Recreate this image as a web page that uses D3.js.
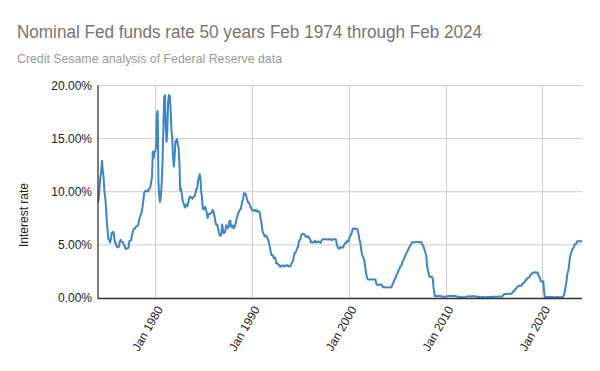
<!DOCTYPE html>
<html><head><meta charset="utf-8">
<script src="https://cdn.jsdelivr.net/npm/d3@7"></script>
<style>body{margin:0;background:#fff}svg{display:block}</style>
</head><body><svg id="c" width="600" height="371"></svg>
<script>
const startYear = 1974, startMonth = 1; // Feb 1974 (0-based month index)
const rate1974 = [8.97,9.35,10.51,11.31,11.93,12.92,12.01,11.34,10.06,9.45,8.53];
const rate1975 = [7.13,6.24,5.54,5.49,5.22,5.55,6.10,6.14,6.24,5.82,5.22,5.20];
const rate1976 = [4.87,4.77,4.84,4.82,5.29,5.48,5.31,5.29,5.25,5.02,4.95,4.65];
const rate1977 = [4.61,4.68,4.69,4.73,5.35,5.39,5.42,5.90,6.14,6.47,6.51,6.56];
const rate1978 = [6.70,6.78,6.79,6.89,7.36,7.60,7.81,8.04,8.45,8.96,9.76,10.03];
const rate1979 = [10.07,10.06,10.09,10.01,10.24,10.29,10.47,10.94,11.43,13.77,13.18,13.78];
const rate1980 = [13.82,14.13,17.19,17.61,10.98,9.47,9.03,9.61,10.87,12.81,15.85,18.90];
const rate1981 = [19.08,15.93,14.70,15.72,18.52,19.10,19.04,17.82,15.87,15.08,13.31,12.37];
const rate1982 = [13.22,14.78,14.68,14.94,14.45,14.15,12.59,10.12,10.31,9.71,9.20,8.95];
const rate1983 = [8.68,8.51,8.77,8.80,8.63,8.98,9.37,9.56,9.45,9.48,9.34,9.47];
const rate1984 = [9.56,9.59,9.91,10.29,10.32,11.06,11.23,11.64,11.30,9.99,9.43,8.38];
const rate1985 = [8.35,8.50,8.58,8.27,7.97,7.53,7.88,7.90,7.92,7.99,8.05,8.27];
const rate1986 = [8.14,7.86,7.48,6.99,6.85,6.92,6.56,6.17,5.89,5.85,6.04,6.91];
const rate1987 = [6.43,6.10,6.13,6.37,6.85,6.73,6.58,6.73,7.22,7.29,6.69,6.77];
const rate1988 = [6.83,6.58,6.58,6.87,7.09,7.51,7.75,8.01,8.19,8.30,8.35,8.76];
const rate1989 = [9.12,9.36,9.85,9.84,9.81,9.53,9.24,8.99,9.02,8.84,8.55,8.45];
const rate1990 = [8.23,8.24,8.28,8.26,8.18,8.29,8.15,8.13,8.20,8.11,7.81,7.31];
const rate1991 = [6.91,6.25,6.12,5.91,5.78,5.90,5.82,5.66,5.45,5.21,4.81,4.43];
const rate1992 = [4.03,4.06,3.98,3.73,3.82,3.76,3.25,3.30,3.22,3.10,3.09,2.92];
const rate1993 = [3.02,3.03,3.07,2.96,3.00,3.04,3.06,3.03,3.09,2.99,3.02,2.96];
const rate1994 = [3.05,3.25,3.34,3.56,4.01,4.25,4.26,4.47,4.73,4.76,5.29,5.45];
const rate1995 = [5.53,5.92,5.98,6.05,6.01,6.00,5.85,5.74,5.80,5.76,5.80,5.60];
const rate1996 = [5.56,5.22,5.31,5.22,5.24,5.27,5.40,5.22,5.30,5.24,5.31,5.29];
const rate1997 = [5.25,5.19,5.39,5.51,5.50,5.56,5.52,5.54,5.54,5.50,5.52,5.50];
const rate1998 = [5.56,5.51,5.49,5.45,5.49,5.56,5.54,5.55,5.51,5.07,4.83,4.68];
const rate1999 = [4.63,4.76,4.81,4.74,4.74,4.76,4.99,5.07,5.22,5.20,5.42,5.30];
const rate2000 = [5.45,5.73,5.85,6.02,6.27,6.53,6.54,6.50,6.52,6.51,6.51,6.40];
const rate2001 = [5.98,5.49,5.31,4.80,4.21,3.97,3.77,3.65,3.07,2.49,2.09,1.82];
const rate2002 = [1.73,1.74,1.73,1.75,1.75,1.75,1.73,1.74,1.75,1.75,1.34,1.24];
const rate2003 = [1.24,1.26,1.25,1.26,1.26,1.22,1.01,1.03,1.01,1.01,1.00,0.98];
const rate2004 = [1.00,1.01,1.00,1.00,1.00,1.03,1.26,1.43,1.61,1.76,1.93,2.16];
const rate2005 = [2.28,2.50,2.63,2.79,3.00,3.04,3.26,3.50,3.62,3.78,4.00,4.16];
const rate2006 = [4.29,4.49,4.59,4.79,4.94,4.99,5.24,5.25,5.25,5.25,5.25,5.24];
const rate2007 = [5.25,5.26,5.26,5.25,5.25,5.25,5.26,5.02,4.94,4.76,4.49,4.24];
const rate2008 = [3.94,2.98,2.61,2.28,1.98,2.00,2.01,2.00,1.81,0.97,0.39,0.16];
const rate2009 = [0.15,0.22,0.18,0.15,0.18,0.21,0.16,0.16,0.15,0.12,0.12,0.12];
const rate2010 = [0.11,0.13,0.16,0.20,0.20,0.18,0.18,0.19,0.19,0.19,0.19,0.18];
const rate2011 = [0.17,0.16,0.14,0.10,0.09,0.09,0.07,0.10,0.08,0.07,0.08,0.07];
const rate2012 = [0.08,0.10,0.13,0.14,0.16,0.16,0.16,0.13,0.14,0.16,0.16,0.16];
const rate2013 = [0.14,0.15,0.14,0.15,0.11,0.09,0.09,0.08,0.08,0.09,0.08,0.09];
const rate2014 = [0.07,0.07,0.08,0.09,0.09,0.10,0.09,0.09,0.09,0.09,0.09,0.12];
const rate2015 = [0.11,0.11,0.11,0.12,0.12,0.13,0.13,0.14,0.14,0.12,0.12,0.24];
const rate2016 = [0.34,0.38,0.36,0.37,0.37,0.38,0.39,0.40,0.40,0.40,0.41,0.54];
const rate2017 = [0.65,0.66,0.79,0.90,0.91,1.04,1.15,1.16,1.15,1.15,1.16,1.30];
const rate2018 = [1.41,1.42,1.51,1.69,1.70,1.82,1.91,1.91,1.95,2.19,2.20,2.27];
const rate2019 = [2.40,2.40,2.41,2.42,2.39,2.38,2.40,2.13,2.04,1.83,1.55,1.55];
const rate2020 = [1.55,1.58,0.65,0.05,0.05,0.08,0.09,0.10,0.09,0.09,0.09,0.09];
const rate2021 = [0.09,0.08,0.07,0.07,0.06,0.08,0.10,0.09,0.08,0.08,0.08,0.08];
const rate2022 = [0.08,0.08,0.20,0.33,0.77,1.21,1.68,2.33,2.56,3.08,3.78,4.10];
const rate2023 = [4.33,4.57,4.65,4.83,5.06,5.08,5.12,5.33,5.33,5.33,5.33,5.33];
const rate2024 = [5.33,5.33];

const yTicks = [0, 5, 10, 15, 20];
const xTickYears = [1980, 1990, 2000, 2010, 2020];
const title = "Nominal Fed funds rate 50 years Feb 1974 through Feb 2024";
const subtitle = "Credit Sesame analysis of Federal Reserve data";
const yTitle = "Interest rate";

const rates = [].concat(rate1974,rate1975,rate1976,rate1977,rate1978,rate1979,rate1980,rate1981,rate1982,rate1983,rate1984,rate1985,rate1986,rate1987,rate1988,rate1989,rate1990,rate1991,rate1992,rate1993,rate1994,rate1995,rate1996,rate1997,rate1998,rate1999,rate2000,rate2001,rate2002,rate2003,rate2004,rate2005,rate2006,rate2007,rate2008,rate2009,rate2010,rate2011,rate2012,rate2013,rate2014,rate2015,rate2016,rate2017,rate2018,rate2019,rate2020,rate2021,rate2022,rate2023,rate2024);
const data = rates.map((v,i) => ({date: new Date(startYear, startMonth + i, 1), v}));

const svg = d3.select("#c");
const font = "'Liberation Sans', Arial, sans-serif";
const m = {l: 98, r: 582, t: 85.5, b: 298};

const x = d3.scaleTime().domain([data[0].date, data[data.length-1].date]).range([m.l, m.r]);
const y = d3.scaleLinear().domain([0, 20]).range([m.b, m.t]);

svg.append("text").attr("x", 17).attr("y", 37.5).attr("font-family", font).attr("font-size", 18)
  .attr("fill", "#757575").attr("textLength", 465).attr("lengthAdjust", "spacingAndGlyphs").text(title);
svg.append("text").attr("x", 17).attr("y", 63).attr("font-family", font).attr("font-size", 12.7)
  .attr("fill", "#999").attr("textLength", 265).attr("lengthAdjust", "spacingAndGlyphs").text(subtitle);

// grid
const xTickDates = xTickYears.map(yr => new Date(yr, 0, 1));
svg.append("g").selectAll("line").data(yTicks.filter(d => d > 0)).join("line")
  .attr("x1", m.l).attr("x2", m.r).attr("y1", d => y(d)).attr("y2", d => y(d))
  .attr("stroke", "#ccc").attr("stroke-width", 1);
svg.append("g").selectAll("line").data(xTickDates).join("line")
  .attr("x1", d => Math.round(x(d)) + 0.5).attr("x2", d => Math.round(x(d)) + 0.5).attr("y1", m.t).attr("y2", m.b)
  .attr("stroke", "#ccc").attr("stroke-width", 1);

// y labels
const yAxis = d3.axisLeft(y).tickValues(yTicks).tickSize(0).tickPadding(6).tickFormat(d => d3.format(".2f")(d) + "%");
const gy = svg.append("g").attr("transform", `translate(${m.l},0)`).call(yAxis);
gy.select(".domain").remove();
gy.selectAll("text").attr("font-family", font).attr("font-size", 12).attr("fill", "#222");

// x labels
const xAxis = d3.axisBottom(x).tickValues(xTickDates).tickSize(0).tickFormat(d3.timeFormat("Jan %Y"));
const gx = svg.append("g").attr("transform", `translate(0,${m.b})`).call(xAxis);
gx.select(".domain").remove();
gx.selectAll("text").attr("font-family", font).attr("font-size", 12).attr("fill", "#222")
  .attr("text-anchor", "end").attr("dy", "0.35em").attr("y", 0)
  .attr("transform", "translate(4,9) rotate(-60)");

// line
const line = d3.line().x(d => x(d.date)).y(d => y(d.v));
svg.append("path").datum(data).attr("d", line).attr("fill", "none")
  .attr("stroke", "#3d85c6").attr("stroke-width", 2).attr("stroke-linejoin", "round");

// axes lines
svg.append("line").attr("x1", m.l).attr("x2", m.l).attr("y1", m.t).attr("y2", m.b + 0.5).attr("stroke", "#333").attr("stroke-width", 1.3);
svg.append("line").attr("x1", m.l).attr("x2", m.r).attr("y1", m.b + 0.5).attr("y2", m.b + 0.5).attr("stroke", "#333").attr("stroke-width", 1.3);

// y title
svg.append("text").attr("transform", `translate(28,215) rotate(-90)`).attr("text-anchor", "middle")
  .attr("font-family", font).attr("font-size", 12).attr("fill", "#222").text(yTitle);
</script></body></html>
